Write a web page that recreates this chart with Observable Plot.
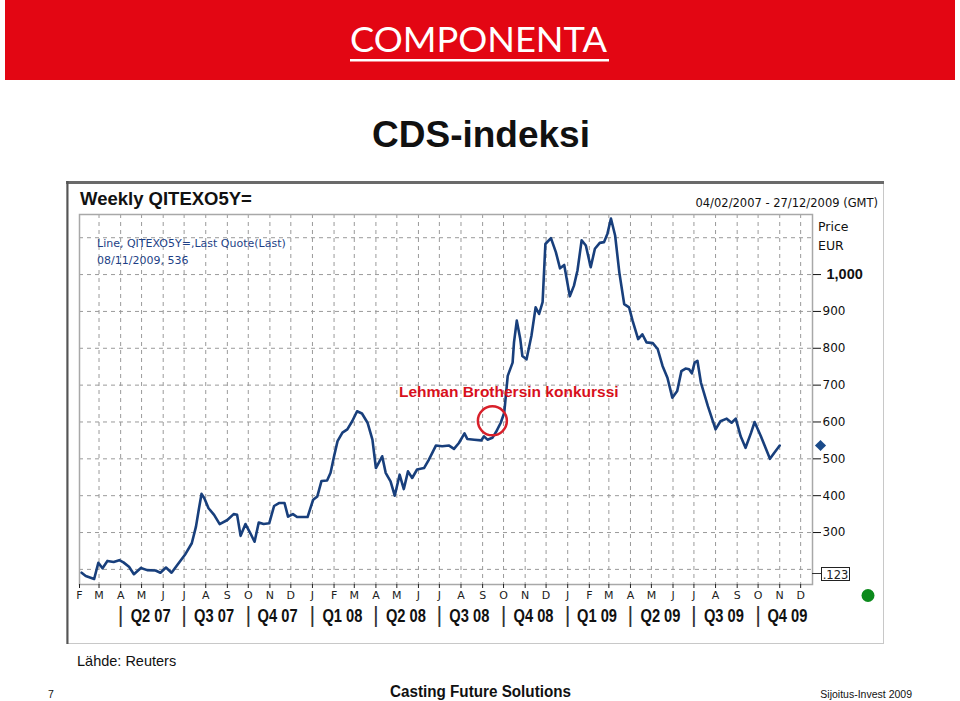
<!DOCTYPE html>
<html><head><meta charset="utf-8">
<script src="https://cdn.jsdelivr.net/npm/d3@7"></script>
<script src="https://cdn.jsdelivr.net/npm/@observablehq/plot@0.6"></script>
<style>body{margin:0;background:#fff;} svg{display:block}</style>
</head><body><div id="chart"></div>
<script>
// ---- data (weekly CDS index, EUR) ----
const dates = [
"2007-02-04","2007-02-10","2007-02-22","2007-02-28","2007-03-06","2007-03-13","2007-03-22","2007-03-30",
"2007-04-05","2007-04-13","2007-04-20","2007-04-30","2007-05-09","2007-05-21","2007-05-28","2007-06-05",
"2007-06-13","2007-06-22","2007-07-03","2007-07-12","2007-07-18","2007-07-22","2007-07-26","2007-07-30",
"2007-08-05","2007-08-13","2007-08-21","2007-09-01","2007-09-10","2007-09-15","2007-09-20","2007-09-27",
"2007-10-04","2007-10-10","2007-10-16","2007-10-23","2007-10-31","2007-11-07","2007-11-14","2007-11-22",
"2007-11-27","2007-12-04","2007-12-10","2007-12-25","2008-01-02","2008-01-08","2008-01-14","2008-01-22",
"2008-01-27","2008-02-01","2008-02-06","2008-02-13","2008-02-20","2008-02-27","2008-03-05","2008-03-12",
"2008-03-20","2008-03-27","2008-04-01","2008-04-05","2008-04-10","2008-04-15","2008-04-22","2008-04-28",
"2008-05-05","2008-05-11","2008-05-17","2008-05-23","2008-05-30","2008-06-09","2008-06-16","2008-06-26",
"2008-07-05","2008-07-15","2008-07-22","2008-07-29","2008-08-06","2008-08-10","2008-08-20","2008-08-30",
"2008-09-03","2008-09-08","2008-09-15","2008-09-20","2008-09-27","2008-10-02","2008-10-07","2008-10-14",
"2008-10-16","2008-10-20","2008-10-25","2008-10-28","2008-11-03","2008-11-10","2008-11-16","2008-11-21",
"2008-11-26","2008-11-30","2008-12-08","2008-12-15","2008-12-21","2008-12-27","2009-01-04","2009-01-10",
"2009-01-15","2009-01-21","2009-01-27","2009-02-03","2009-02-09","2009-02-16","2009-02-22","2009-02-27",
"2009-03-04","2009-03-10","2009-03-16","2009-03-23","2009-03-30","2009-04-04","2009-04-12","2009-04-18",
"2009-04-24","2009-05-03","2009-05-10","2009-05-17","2009-05-24","2009-05-31","2009-06-07","2009-06-13",
"2009-06-19","2009-06-24","2009-06-28","2009-07-02","2009-07-06","2009-07-11","2009-07-21","2009-08-01",
"2009-08-08","2009-08-17","2009-08-24","2009-08-30","2009-09-06","2009-09-13","2009-09-21","2009-09-26",
"2009-10-05","2009-10-18","2009-10-24","2009-11-01"];
const values = [
191,182,174,218,203,223,220,225,
219,207,187,204,198,197,191,205,
191,214,242,271,316,362,405,393,
366,348,323,334,350,348,291,323,
298,275,327,323,325,372,380,380,
343,350,342,342,389,398,440,441,
462,507,548,571,580,602,629,623,
598,552,475,489,507,462,439,400,
457,418,466,448,471,475,498,536,
534,536,527,543,569,554,552,550,
561,552,557,572,598,625,725,761,
816,875,825,779,770,834,911,893,
925,1083,1099,1061,1017,1026,941,970,
1011,1093,1079,1020,1070,1086,1088,1111,
1152,1106,1006,920,911,875,825,838,
816,814,798,752,720,666,684,738,
745,743,732,761,766,707,643,580,
602,609,598,609,561,530,571,600,
561,500,516,536];

const yTickValues = [300, 400, 500, 600, 700, 800, 900];
const yTickBold = [1000];
const yGrid = [200, 300, 400, 500, 600, 700, 800, 900, 1000, 1100];
const monthLetters = "JFMAMJJASOND";
const quarterLabels = ["Q2 07","Q3 07","Q4 07","Q1 08","Q2 08","Q3 08","Q4 08","Q1 09","Q2 09","Q3 09","Q4 09"];
const quarterMids = ["2007-05-14","2007-08-13","2007-11-12","2008-02-13","2008-05-14","2008-08-13","2008-11-13","2009-02-12","2009-05-14","2009-08-13","2009-11-12"];
const quarterStarts = ["2007-04-01","2007-07-01","2007-10-01","2008-01-01","2008-04-01","2008-07-01","2008-10-01","2009-01-01","2009-04-01","2009-07-01","2009-10-01"];
const lastQuote = 536;
const lehman = {date: "2008-09-15", value: 603, label: "Lehman Brothersin konkurssi", labelDate: "2008-05-04", labelValue: 681};

// ---- build ----
const U = s => new Date(s + "T00:00:00Z");
const data = dates.map((d, i) => ({date: U(d), value: values[i]}));
const monthTicks = d3.utcMonth.range(U("2007-02-01"), U("2009-12-02"));

const chart = Plot.plot({
  width: 960, height: 701,
  marginLeft: 79, marginRight: 148, marginTop: 214, marginBottom: 117,
  style: {background: "#fff", fontFamily: "DejaVu Sans", color: "#222"},
  x: {type: "utc", domain: [U("2007-02-01"), U("2009-12-18")], axis: null},
  y: {domain: [159, 1163], axis: null},
  marks: [
    Plot.ruleX(monthTicks.slice(1), {x: d => d, stroke: "#9a9a9a", strokeDasharray: "4,4", strokeWidth: 1}),
    Plot.ruleY(yGrid, {y: d => d, stroke: "#9a9a9a", strokeDasharray: "4,4", strokeWidth: 1}),
    Plot.frame({stroke: "#a8a8a8", strokeWidth: 1.5}),
    Plot.axisX(monthTicks, {anchor: "bottom", tickSize: 4, tickPadding: 3,
      tickFormat: d => monthLetters[d.getUTCMonth()], fontSize: 11, fontFamily: "DejaVu Sans", color: "#222"}),
    Plot.axisY(yTickValues, {anchor: "right", tickSize: 8, tickPadding: 2, tickFormat: d => String(d),
      fontSize: 12, fontFamily: "DejaVu Sans", color: "#111"}),
    Plot.axisY(yTickBold, {anchor: "right", tickSize: 8, tickPadding: 6, tickFormat: d3.format(","),
      fontSize: 14.5, fontWeight: "bold", fontFamily: "Liberation Sans", color: "#111"}),
    Plot.text(quarterStarts, {x: d => U(d), text: () => "|", frameAnchor: "bottom", lineAnchor: "middle", dy: 30,
      fontSize: 22, fontFamily: "Liberation Sans", fill: "#333"}),
    Plot.text(quarterLabels, {x: (d, i) => U(quarterMids[i]), text: d => d, frameAnchor: "bottom", lineAnchor: "middle", dy: 31,
      fontSize: 19, fontWeight: "bold", fontFamily: "Liberation Sans", fill: "#111"}),
    Plot.line(data, {x: "date", y: "value", stroke: "#183f7c", strokeWidth: 2.6, curve: "linear"}),
    Plot.dot([lastQuote], {y: d => d, frameAnchor: "right", dx: 8, symbol: "diamond2", r: 5, fill: "#1b4b8a"}),
    Plot.dot([lehman], {x: d => U(d.date), y: "value", r: 14.5, stroke: "#d8202a", strokeWidth: 2.5, fill: "none"}),
    Plot.text([lehman], {x: d => U(d.labelDate), y: "labelValue", text: "label", textAnchor: "start",
      fill: "#d8101c", fontWeight: "bold", fontSize: 15.5, fontFamily: "Liberation Sans"})
  ]
});
document.getElementById("chart").appendChild(chart);

// condense the quarter labels like the reference's narrow bold face
const qset = new Set(quarterLabels);
d3.select(chart).selectAll("text").each(function () {
  if (qset.has(this.textContent)) {
    d3.select(this).attr("textLength", 40).attr("lengthAdjust", "spacingAndGlyphs");
  }
});

// ---- page decorations ----
const svg = d3.select(chart);
const bg = svg.insert("g", ":first-child").attr("text-anchor", "start");
bg.append("rect").attr("x", 5).attr("y", 0).attr("width", 950).attr("height", 80).attr("fill", "#e30613");
bg.append("text").attr("x", 350).attr("y", 52).attr("fill", "#fff").attr("font-family", "Lato")
  .attr("font-size", 35).attr("textLength", 257).attr("lengthAdjust", "spacingAndGlyphs").text("COMPONENTA");
bg.append("rect").attr("x", 350).attr("y", 59).attr("width", 259).attr("height", 2.5).attr("fill", "#fff");
bg.append("text").attr("x", 481).attr("y", 147).attr("text-anchor", "middle").attr("font-family", "Liberation Sans")
  .attr("font-weight", "bold").attr("font-size", 37).attr("fill", "#111").text("CDS-indeksi");
// chart panel
bg.append("rect").attr("x", 66.5).attr("y", 181.5).attr("width", 817).attr("height", 462)
  .attr("fill", "#fff").attr("stroke", "#c8c8c8");
bg.append("line").attr("x1", 66).attr("x2", 884).attr("y1", 182.5).attr("y2", 182.5).attr("stroke", "#6a6a6a").attr("stroke-width", 3);
bg.append("line").attr("x1", 67.5).attr("x2", 67.5).attr("y1", 181).attr("y2", 644).attr("stroke", "#555").attr("stroke-width", 2);

const fg = svg.append("g").attr("text-anchor", "start");
fg.append("text").attr("x", 80).attr("y", 205).attr("font-family", "Liberation Sans").attr("font-weight", "bold")
  .attr("font-size", 18.5).attr("fill", "#111").text("Weekly QITEXO5Y=");
fg.append("text").attr("x", 878).attr("y", 207).attr("text-anchor", "end").attr("font-family", "DejaVu Sans")
  .attr("font-size", 11.5).attr("fill", "#111").text("04/02/2007 - 27/12/2009 (GMT)");
fg.append("text").attr("x", 97).attr("y", 247).attr("font-family", "DejaVu Sans").attr("font-size", 11)
  .attr("fill", "#1d3f86").text("Line, QITEXO5Y=,Last Quote(Last)");
fg.append("text").attr("x", 97).attr("y", 264).attr("font-family", "DejaVu Sans").attr("font-size", 11)
  .attr("fill", "#1d3f86").text("08/11/2009, " + lastQuote);
fg.append("text").attr("x", 818).attr("y", 231).attr("font-family", "DejaVu Sans").attr("font-size", 12.5)
  .attr("fill", "#111").text("Price");
fg.append("text").attr("x", 818).attr("y", 250).attr("font-family", "DejaVu Sans").attr("font-size", 12.5)
  .attr("fill", "#111").text("EUR");
// placeholder box
fg.append("line").attr("x1", 812).attr("x2", 821).attr("y1", 573.5).attr("y2", 573.5).attr("stroke", "#333");
fg.append("rect").attr("x", 821.5).attr("y", 567.5).attr("width", 28).attr("height", 13).attr("fill", "#fff").attr("stroke", "#222");
fg.append("text").attr("x", 835.5).attr("y", 578.5).attr("text-anchor", "middle").attr("font-family", "DejaVu Sans")
  .attr("font-size", 11.5).attr("fill", "#222").text(".123");
fg.append("circle").attr("cx", 868).attr("cy", 595.5).attr("r", 6.5).attr("fill", "#0c8a1c");
// footer
fg.append("text").attr("x", 77).attr("y", 666).attr("font-family", "Liberation Sans").attr("font-size", 14.5)
  .attr("fill", "#111").text("Lähde: Reuters");
fg.append("text").attr("x", 48).attr("y", 698).attr("font-family", "Liberation Sans").attr("font-size", 10.5)
  .attr("fill", "#111").text("7");
fg.append("text").attr("x", 390).attr("y", 697).attr("font-family", "Liberation Sans").attr("font-weight", "bold")
  .attr("font-size", 16).attr("textLength", 181).attr("lengthAdjust", "spacingAndGlyphs").attr("fill", "#111").text("Casting Future Solutions");
fg.append("text").attr("x", 912).attr("y", 698).attr("text-anchor", "end").attr("font-family", "Liberation Sans")
  .attr("font-size", 10.5).attr("fill", "#111").text("Sijoitus-Invest 2009");
</script>
</body></html>
